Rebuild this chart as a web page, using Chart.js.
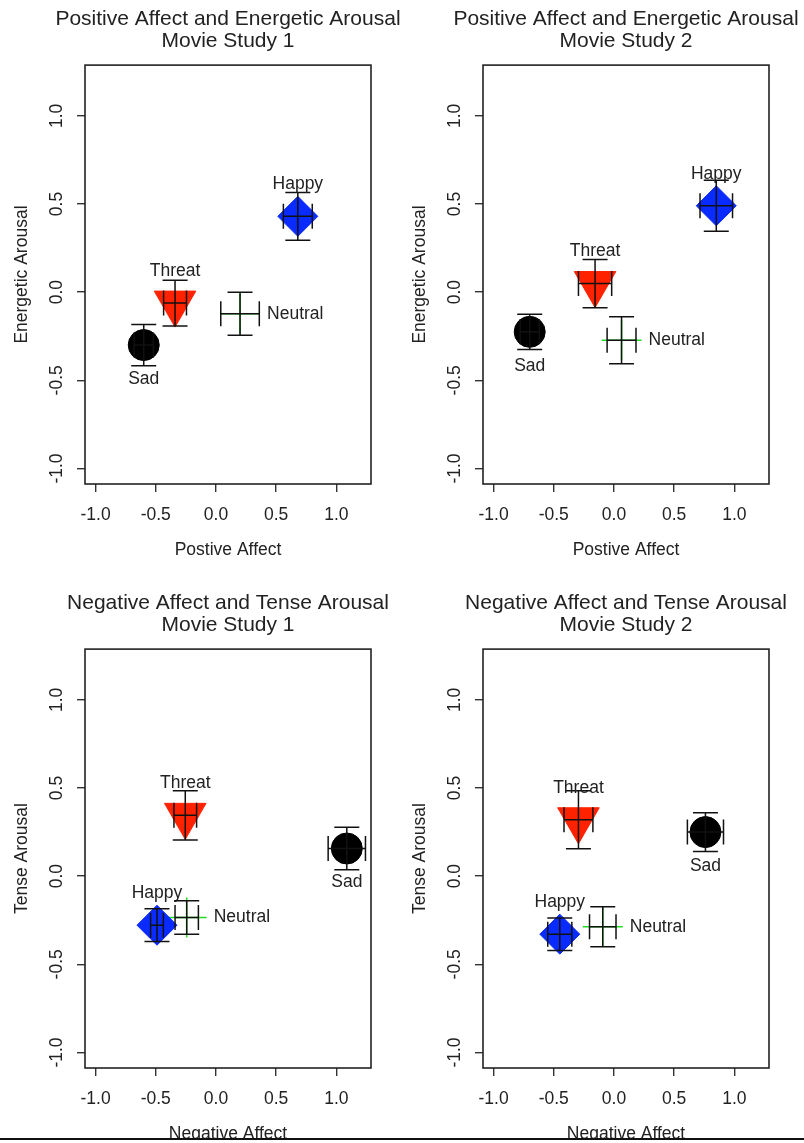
<!DOCTYPE html>
<html>
<head>
<meta charset="utf-8">
<script src="https://cdn.jsdelivr.net/npm/chart.js@4.4.1/dist/chart.umd.min.js"></script>
<style>
  body { margin: 0; background: #fff; overflow: hidden; }
  #page { position: relative; width: 804px; height: 1143px; overflow: hidden; background: #fff; }
  #page canvas { position: absolute; }
  #cut { position: absolute; left: 0; top: 1138px; width: 804px; height: 5px; background: #fff; border-top: 2px solid #111; box-sizing: border-box; }
</style>
</head>
<body>
<div id="page">
  <canvas id="c1" width="402" height="571" style="left:0;top:0"></canvas>
  <canvas id="c2" width="402" height="571" style="left:398px;top:0"></canvas>
  <canvas id="c3" width="402" height="571" style="left:0;top:584px"></canvas>
  <canvas id="c4" width="402" height="571" style="left:398px;top:584px"></canvas>
  <div id="cut"></div>
</div>
<script>
// conditions, in the order of every array below
var conditions = ["Happy", "Threat", "Sad", "Neutral"];
var tickValues = [-1.0, -0.5, 0.0, 0.5, 1.0];
var axisMin = -1.088, axisMax = 1.288;

// Movie study 1: positive affect vs energetic arousal
var posAffect1    = [0.68, -0.34, -0.60, 0.20];
var posAffectErr1 = [0.12, 0.095, 0.08, 0.16];
var energetic1    = [0.43, -0.062, -0.30, -0.122];
var energeticErr1 = [0.135, 0.13, 0.117, 0.122];

// Movie study 2: positive affect vs energetic arousal
var posAffect2    = [0.85, -0.157, -0.70, 0.063];
var posAffectErr2 = [0.135, 0.138, 0.08, 0.12];
var energetic2    = [0.49, 0.049, -0.225, -0.273];
var energeticErr2 = [0.145, 0.137, 0.10, 0.133];

// Movie study 1: negative affect vs tense arousal
var negAffect1    = [-0.49, -0.255, 1.087, -0.243];
var negAffectErr1 = [0.053, 0.094, 0.155, 0.097];
var tense1        = [-0.278, 0.345, 0.157, -0.234];
var tenseErr1     = [0.093, 0.14, 0.12, 0.095];

// Movie study 2: negative affect vs tense arousal
var negAffect2    = [-0.45, -0.295, 0.76, -0.093];
var negAffectErr2 = [0.10, 0.12, 0.15, 0.11];
var tense2        = [-0.329, 0.32, 0.25, -0.287];
var tenseErr2     = [0.092, 0.165, 0.11, 0.113];

var markerStyle = {
    Happy:   { pointStyle: 'rectRot',  color: '#0a2bff', radius: 20,   rotation: 0,   width: 1 },
    Threat:  { pointStyle: 'triangle', color: '#ff2200', radius: 24,   rotation: 180, width: 1 },
    Sad:     { pointStyle: 'circle',   color: '#000000', radius: 15.5, rotation: 0,   width: 1 },
    Neutral: { pointStyle: 'cross',    color: '#22dd22', radius: 20,   rotation: 0,   width: 1.5 }
};
var labelSide = { Happy: 'above', Threat: 'above', Sad: 'below', Neutral: 'right' };

Chart.defaults.font.family = '"Liberation Sans", Arial, Helvetica, sans-serif';
Chart.defaults.color = '#222';

var FONT = '17.5px "Liberation Sans", Arial, sans-serif';

var errorBars = {
    id: 'errorBars',
    afterLayout: function (chart) {
        // let the two-line title run wider than the plot box instead of squeezing it
        var t = chart.titleBlock;
        if (t) { t.left -= 80; t.right += 80; t.width += 160; }
    },
    beforeDatasetsDraw: function (chart) {
        var a = chart.chartArea, ctx = chart.ctx;
        ctx.save();
        ctx.strokeStyle = '#222';
        ctx.lineWidth = 1.6;
        ctx.strokeRect(a.left, a.top, a.right - a.left, a.bottom - a.top);
        ctx.restore();
    },
    afterDatasetsDraw: function (chart) {
        var ctx = chart.ctx, xs = chart.scales.x, ys = chart.scales.y;
        var cap = 12.5;
        ctx.save();
        ctx.strokeStyle = '#111';
        ctx.lineWidth = 1.5;
        chart.data.datasets.forEach(function (ds) {
            var p = ds.data[0];
            var cx = xs.getPixelForValue(p.x), cy = ys.getPixelForValue(p.y);
            var xl = xs.getPixelForValue(p.x - p.xErr), xr = xs.getPixelForValue(p.x + p.xErr);
            var yt = ys.getPixelForValue(p.y + p.yErr), yb = ys.getPixelForValue(p.y - p.yErr);
            ctx.beginPath();
            ctx.moveTo(xl, cy); ctx.lineTo(xr, cy);
            ctx.moveTo(xl, cy - cap); ctx.lineTo(xl, cy + cap);
            ctx.moveTo(xr, cy - cap); ctx.lineTo(xr, cy + cap);
            ctx.moveTo(cx, yt); ctx.lineTo(cx, yb);
            ctx.moveTo(cx - cap, yt); ctx.lineTo(cx + cap, yt);
            ctx.moveTo(cx - cap, yb); ctx.lineTo(cx + cap, yb);
            ctx.stroke();

            // condition label
            ctx.fillStyle = '#222';
            ctx.font = FONT;
            ctx.textBaseline = 'middle';
            var side = labelSide[ds.label];
            if (side === 'above') {
                ctx.textAlign = 'center';
                ctx.fillText(ds.label, cx, cy - 32);
            } else if (side === 'below') {
                ctx.textAlign = 'center';
                ctx.fillText(ds.label, cx, cy + 34);
            } else {
                ctx.textAlign = 'left';
                ctx.fillText(ds.label, cx + 27, cy);
            }
        });
        ctx.restore();
    },
    afterDraw: function (chart) {
        // y tick labels, turned to read upwards
        var ctx = chart.ctx, ys = chart.scales.y, a = chart.chartArea;
        ctx.save();
        ctx.fillStyle = '#222';
        ctx.font = FONT;
        ctx.textAlign = 'center';
        ctx.textBaseline = 'middle';
        tickValues.forEach(function (v) {
            ctx.save();
            ctx.translate(a.left - 28, ys.getPixelForValue(v));
            ctx.rotate(-Math.PI / 2);
            ctx.fillText(v.toFixed(1), 0, 0);
            ctx.restore();
        });
        ctx.restore();
    }
};

function fixedTicks(scale) {
    scale.ticks = tickValues.map(function (v) { return { value: v }; });
}

function makePanel(id, titleLines, xTitle, yTitle, xv, xe, yv, ye) {
    var datasets = conditions.map(function (c, i) {
        var m = markerStyle[c];
        return {
            label: c,
            data: [{ x: xv[i], y: yv[i], xErr: xe[i], yErr: ye[i] }],
            pointStyle: m.pointStyle,
            pointRadius: m.radius,
            rotation: m.rotation,
            backgroundColor: m.color,
            borderColor: m.color,
            borderWidth: m.width
        };
    });
    var axisTick = { display: true, drawOnChartArea: false, drawTicks: true, tickLength: 8, color: '#333', lineWidth: 1.4 };
    return new Chart(document.getElementById(id), {
        type: 'scatter',
        data: { datasets: datasets },
        plugins: [errorBars],
        options: {
            responsive: false,
            animation: false,
            events: [],
            layout: { padding: { left: 0, right: 31, top: 0, bottom: 0 } },
            plugins: {
                legend: { display: false },
                tooltip: { enabled: false },
                title: {
                    display: true,
                    text: titleLines,
                    fullSize: false,
                    color: '#222',
                    font: { size: 21, weight: 'normal', lineHeight: 1.05 },
                    padding: { top: 8, bottom: 13 }
                }
            },
            scales: {
                x: {
                    type: 'linear',
                    min: axisMin, max: axisMax,
                    afterBuildTicks: fixedTicks,
                    afterFit: function (s) { s.height = 87; },
                    border: { display: false },
                    grid: axisTick,
                    ticks: {
                        autoSkip: false, maxRotation: 0, padding: 12.5,
                        font: { size: 17.5 }, color: '#222',
                        callback: function (v) { return v.toFixed(1); }
                    },
                    title: { display: true, text: xTitle, font: { size: 17.5 }, color: '#222', padding: { top: 0, bottom: 10.5 } }
                },
                y: {
                    type: 'linear',
                    min: axisMin, max: axisMax,
                    afterBuildTicks: fixedTicks,
                    afterFit: function (s) { s.width = 85; },
                    border: { display: false },
                    grid: axisTick,
                    ticks: { display: false },
                    title: { display: true, text: yTitle, font: { size: 17.5 }, color: '#222', padding: { top: 11.5, bottom: 0 } }
                }
            }
        }
    });
}

makePanel('c1', ['Positive Affect and Energetic Arousal', 'Movie Study 1'], 'Postive Affect', 'Energetic Arousal',
    posAffect1, posAffectErr1, energetic1, energeticErr1);
makePanel('c2', ['Positive Affect and Energetic Arousal', 'Movie Study 2'], 'Postive Affect', 'Energetic Arousal',
    posAffect2, posAffectErr2, energetic2, energeticErr2);
makePanel('c3', ['Negative Affect and Tense Arousal', 'Movie Study 1'], 'Negative Affect', 'Tense Arousal',
    negAffect1, negAffectErr1, tense1, tenseErr1);
makePanel('c4', ['Negative Affect and Tense Arousal', 'Movie Study 2'], 'Negative Affect', 'Tense Arousal',
    negAffect2, negAffectErr2, tense2, tenseErr2);
</script>
</body>
</html>
